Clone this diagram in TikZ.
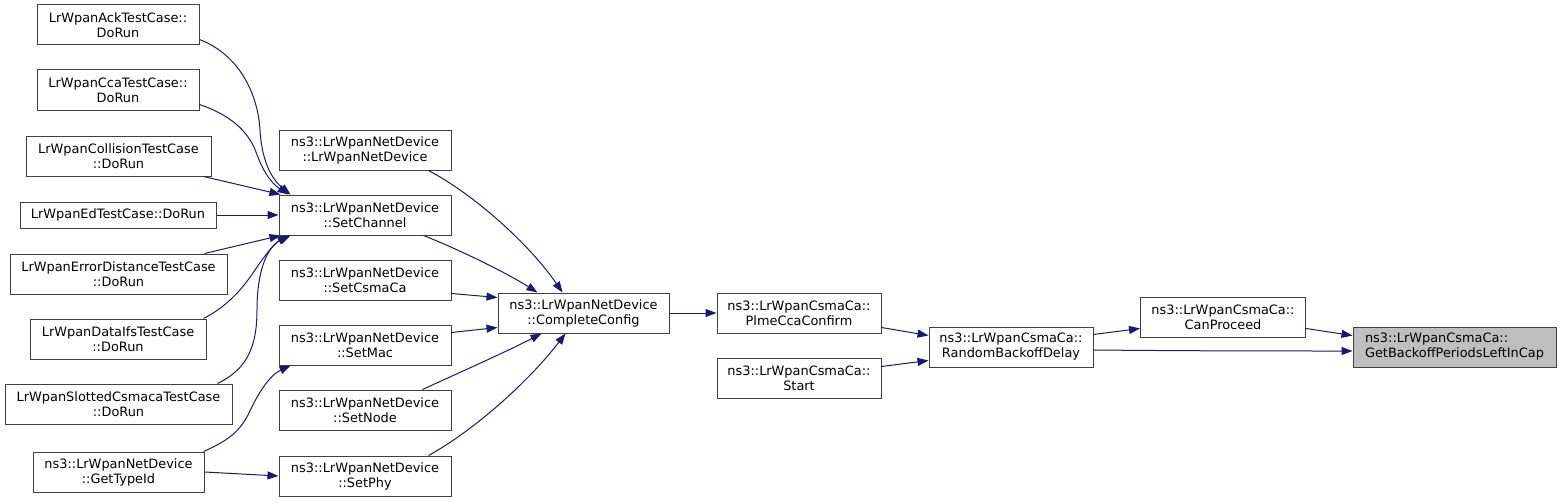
\documentclass[tikz,border=0pt]{standalone}
\usepackage{fontspec}
\setmainfont{DejaVu Sans}
\usetikzlibrary{arrows.meta,calc}
\definecolor{edgec}{HTML}{191970}
\definecolor{borderc}{HTML}{404040}
\definecolor{grayfill}{HTML}{BFBFBF}
\tikzset{
  fn/.style={draw=borderc, line width=1pt, fill=white, inner xsep=0pt, inner ysep=0pt,
    minimum height=40pt, align=center, font=\fontsize{12.9}{15}\selectfont, text=black},
  fnone/.style={fn, minimum height=26pt},
  fncur/.style={fn, fill=grayfill, align=left},
  edge/.style={draw=edgec, line width=1pt, -{Triangle[length=11pt,width=8pt]}}
}
\begin{document}
\begin{tikzpicture}[x=1pt,y=-1pt]
\useasboundingbox (0,0) rectangle (1563,503);
% left column
\node[fn, minimum width=162pt] (ack) at (118,25) {LrWpanAckTestCase::\\DoRun};
\node[fn, minimum width=162pt] (cca) at (118,90) {LrWpanCcaTestCase::\\DoRun};
\node[fn, minimum width=185pt] (coll) at (118.5,156) {LrWpanCollisionTestCase\\::DoRun};
\node[fnone, minimum width=196pt] (ed) at (118,215) {LrWpanEdTestCase::DoRun};
\node[fn, minimum width=217pt] (errd) at (118.5,274) {LrWpanErrorDistanceTestCase\\::DoRun};
\node[fn, minimum width=176pt] (dataifs) at (118,339) {LrWpanDataIfsTestCase\\::DoRun};
\node[fn, minimum width=227pt] (slotted) at (118.5,404) {LrWpanSlottedCsmacaTestCase\\::DoRun};
\node[fn, minimum width=171pt] (gettypeid) at (118.5,472) {ns3::LrWpanNetDevice\\::GetTypeId};
% middle column
\node[fn, minimum width=172pt] (ctor) at (365,150) {ns3::LrWpanNetDevice\\::LrWpanNetDevice};
\node[fn, minimum width=172pt] (setchannel) at (365,215) {ns3::LrWpanNetDevice\\::SetChannel};
\node[fn, minimum width=172pt] (setcsmaca) at (365,280) {ns3::LrWpanNetDevice\\::SetCsmaCa};
\node[fn, minimum width=172pt] (setmac) at (365,345) {ns3::LrWpanNetDevice\\::SetMac};
\node[fn, minimum width=172pt] (setnode) at (365,410) {ns3::LrWpanNetDevice\\::SetNode};
\node[fn, minimum width=172pt] (setphy) at (365,476) {ns3::LrWpanNetDevice\\::SetPhy};
% right part
\node[fn, minimum width=171pt] (cc) at (583.5,313) {ns3::LrWpanNetDevice\\::CompleteConfig};
\node[fn, minimum width=164pt] (plme) at (799,313) {ns3::LrWpanCsmaCa::\\PlmeCcaConfirm};
\node[fn, minimum width=164pt] (start) at (799,378) {ns3::LrWpanCsmaCa::\\Start};
\node[fn, minimum width=164pt] (rbd) at (1011,347) {ns3::LrWpanCsmaCa::\\RandomBackoffDelay};
\node[fn, minimum width=165pt] (canproceed) at (1223,317) {ns3::LrWpanCsmaCa::\\CanProceed};
\node[fncur, minimum width=203pt] (getbackoff) at (1454.5,347) {ns3::LrWpanCsmaCa::\\GetBackoffPeriodsLeftInCap};
% edges into SetChannel
\draw[edge] ($(ack.south east)+(0,-6)$) .. controls (240,55) and (258,95) .. (260,130)
  .. controls (262,165) and (274,181) .. ($(setchannel.north west)+(12,0)$);
\draw[edge] ($(cca.south east)+(0,-6)$) .. controls (228,114) and (248,130) .. (256,152)
  .. controls (264,175) and (274,185) .. ($(setchannel.north west)+(10,0)$);
\draw[edge] ($(coll.south east)+(-8,0)$) -- ($(setchannel.north west)+(2,0)$);
\draw[edge] (ed.east) -- (setchannel.west);
\draw[edge] ($(errd.north east)+(-23,0)$) -- ($(setchannel.south west)+(2,0)$);
\draw[edge] ($(dataifs.north east)+(-3,0)$) .. controls (230,305) and (245,285) .. (255,270)
  .. controls (265,255) and (275,243) .. ($(setchannel.south west)+(10,0)$);
\draw[edge] ($(slotted.north east)+(-15,0)$) .. controls (245,370) and (257,350) .. (257,310)
  .. controls (257,265) and (270,245) .. ($(setchannel.south west)+(12,0)$);
% GetTypeId
\draw[edge] ($(gettypeid.north east)+(-1,0)$) .. controls (230,440) and (240,430) .. (248,415)
  .. controls (258,393) and (270,375) .. ($(setmac.south west)+(12,0)$);
\draw[edge] (gettypeid.east) -- (setphy.west);
% into CompleteConfig
\draw[edge] ($(ctor.south east)+(-23,0)$) .. controls (475,195) and (530,245) .. ($(cc.north west)+(65,0)$);
\draw[edge] ($(setchannel.south east)+(-28,0)$) .. controls (465,252) and (510,275) .. ($(cc.north west)+(40,0)$);
\draw[edge] ($(setcsmaca.south east)+(0,-7)$) -- ($(cc.north west)+(0,5)$);
\draw[edge] ($(setmac.north east)+(0,8)$) -- ($(cc.south west)+(0,-6)$);
\draw[edge] ($(setnode.north east)+(-29,0)$) .. controls (465,370) and (510,350) .. ($(cc.south west)+(44,0)$);
\draw[edge] ($(setphy.north east)+(-23,0)$) .. controls (475,430) and (530,380) .. ($(cc.south west)+(68,0)$);
% right chain
\draw[edge] (cc.east) -- (plme.west);
\draw[edge] ($(plme.south east)+(0,-6)$) -- ($(rbd.north west)+(0,9)$);
\draw[edge] ($(start.north east)+(0,9)$) -- ($(rbd.south west)+(0,-7)$);
\draw[edge] ($(rbd.north east)+(0,8)$) -- ($(canproceed.south west)+(0,-9)$);
\draw[edge] ($(rbd.east)+(0,3)$) .. controls (1200,351) and (1280,351) .. ($(getbackoff.west)+(0,4)$);
\draw[edge] ($(canproceed.south east)+(0,-9)$) -- ($(getbackoff.north west)+(0,9)$);
\end{tikzpicture}
\end{document}
